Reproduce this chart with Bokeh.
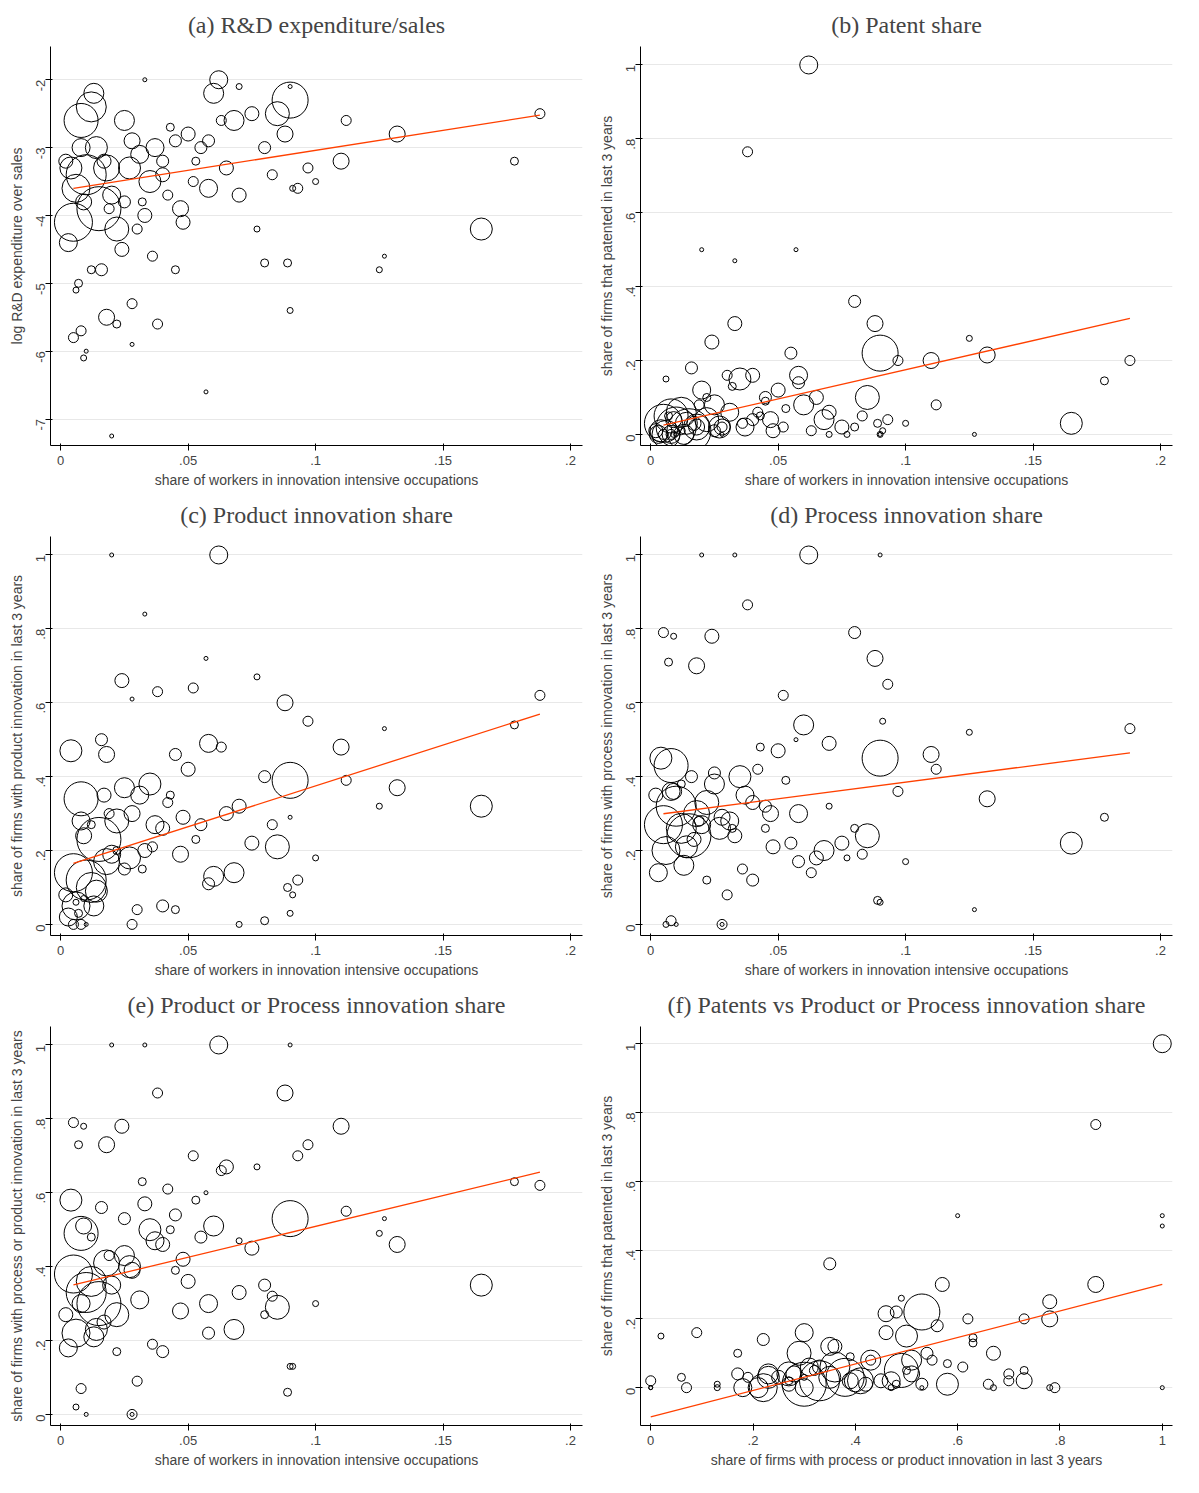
import math
from bokeh.plotting import figure
from bokeh.layouts import gridplot
from bokeh.models import ColumnDataSource, FixedTicker, CustomJSTickFormatter
from bokeh.embed import file_html
from bokeh.resources import INLINE

# industry data
share_innov = [0.005, 0.008, 0.010, 0.015, 0.012, 0.006, 0.018, 0.022, 0.004, 0.014,
               0.025, 0.003, 0.020, 0.028, 0.009, 0.031, 0.035, 0.033, 0.040, 0.045,
               0.047, 0.050, 0.052, 0.055, 0.058, 0.060, 0.062, 0.038, 0.065, 0.068,
               0.080, 0.085, 0.090, 0.088, 0.093, 0.097, 0.110, 0.112, 0.125, 0.132,
               0.165, 0.178, 0.188, 0.100, 0.127, 0.090, 0.089, 0.080, 0.077, 0.057,
               0.020, 0.033, 0.090, 0.005, 0.008, 0.007, 0.006, 0.009, 0.010, 0.018,
               0.022, 0.028, 0.028, 0.016, 0.012, 0.024, 0.030, 0.036, 0.042, 0.045,
               0.048, 0.053, 0.058, 0.063, 0.070, 0.070, 0.075, 0.083, 0.091, 0.013,
               0.002, 0.017, 0.025, 0.032, 0.037, 0.040, 0.043, 0.019, 0.027, 0.008]
weight = [38, 34, 40, 44, 30, 28, 26, 24, 22, 22,
          20, 18, 18, 16, 16, 18, 22, 14, 14, 12,
          16, 14, 10, 12, 18, 20, 18, 10, 14, 20,
          12, 24, 36, 16, 10, 10, 16, 10, 6, 16,
          22, 8, 10, 6, 4, 6, 8, 8, 6, 4,
          4, 4, 4, 10, 10, 8, 6, 6, 4, 16,
          8, 10, 4, 12, 8, 14, 10, 10, 10, 8,
          14, 8, 12, 10, 14, 6, 14, 10, 6, 20,
          14, 14, 12, 8, 18, 12, 8, 10, 22, 18]
rd_sales = [-4.1, -2.6, -3.4, -3.9, -2.4, -3.6, -3.3, -4.2, -3.3, -3.0,
            -2.6, -4.4, -3.7, -2.9, -3.8, -3.1, -3.5, -4.0, -3.4, -2.9,
            -3.9, -2.8, -3.5, -3.0, -3.6, -2.2, -2.0, -5.6, -3.3, -2.6,
            -3.0, -2.5, -2.3, -2.8, -3.6, -3.3, -3.2, -2.6, -4.8, -2.8,
            -4.2, -3.2, -2.5, -3.5, -4.6, -5.4, -4.7, -4.7, -4.2, -6.6,
            -7.25, -2.0, -2.1, -5.8, -5.7, -5.0, -5.1, -6.1, -6.0, -5.5,
            -5.6, -5.3, -5.9, -4.8, -4.8, -4.5, -4.2, -4.6, -3.7, -4.8,
            -4.1, -3.2, -2.9, -2.6, -3.7, -2.1, -2.5, -3.4, -3.6, -2.2,
            -3.2, -3.2, -3.8, -3.8, -3.0, -3.2, -2.7, -3.9, -3.3, -3.0]
patent = [0.03, 0.05, 0.02, 0.01, 0.06, 0.00, 0.02, 0.04, 0.01, 0.03,
          0.08, 0.00, 0.12, 0.02, 0.04, 0.06, 0.15, 0.30, 0.16, 0.10,
          0.04, 0.12, 0.02, 0.22, 0.16, 0.08, 1.00, 0.765, 0.10, 0.04,
          0.36, 0.10, 0.22, 0.30, 0.04, 0.20, 0.20, 0.08, 0.26, 0.215,
          0.03, 0.145, 0.20, 0.03, 0.00, 0.00, 0.03, 0.02, 0.00, 0.50,
          0.50, 0.47, 0.00, 0.00, 0.00, 0.05, 0.15, 0.00, 0.00, 0.02,
          0.10, 0.02, 0.00, 0.18, 0.01, 0.25, 0.16, 0.03, 0.06, 0.09,
          0.01, 0.07, 0.14, 0.01, 0.06, 0.00, 0.02, 0.05, 0.01, 0.00,
          0.01, 0.03, 0.01, 0.13, 0.02, 0.04, 0.05, 0.08, 0.02, 0.00]
product = [0.14, 0.34, 0.12, 0.23, 0.10, 0.05, 0.17, 0.28, 0.47, 0.09,
           0.37, 0.02, 0.19, 0.30, 0.24, 0.35, 0.38, 0.20, 0.26, 0.46,
           0.19, 0.42, 0.64, 0.27, 0.49, 0.13, 1.00, 0.63, 0.30, 0.14,
           0.40, 0.21, 0.39, 0.60, 0.12, 0.55, 0.48, 0.39, 0.32, 0.37,
           0.32, 0.54, 0.62, 0.18, 0.53, 0.03, 0.10, 0.01, 0.67, 0.72,
           1.00, 0.84, 0.29, 0.00, 0.00, 0.03, 0.06, 0.07, 0.00, 0.46,
           0.20, 0.00, 0.61, 0.50, 0.27, 0.66, 0.04, 0.21, 0.33, 0.04,
           0.29, 0.23, 0.11, 0.48, 0.32, 0.00, 0.22, 0.27, 0.08, 0.05,
           0.08, 0.35, 0.15, 0.15, 0.27, 0.05, 0.35, 0.30, 0.18, 0.28]
process = [0.27, 0.43, 0.32, 0.24, 0.26, 0.20, 0.30, 0.33, 0.45, 0.21,
           0.38, 0.14, 0.27, 0.29, 0.36, 0.28, 0.40, 0.24, 0.33, 0.32,
           0.30, 0.47, 0.62, 0.22, 0.30, 0.54, 1.00, 0.865, 0.18, 0.20,
           0.79, 0.24, 0.45, 0.72, 0.65, 0.36, 0.46, 0.42, 0.52, 0.34,
           0.22, 0.29, 0.53, 0.17, 0.04, 0.06, 0.065, 0.26, 0.18, 0.50,
           1.00, 1.00, 1.00, 0.79, 0.01, 0.71, 0.00, 0.78, 0.00, 0.70,
           0.12, 0.00, 0.00, 0.40, 0.38, 0.78, 0.08, 0.15, 0.42, 0.26,
           0.21, 0.39, 0.17, 0.14, 0.49, 0.32, 0.22, 0.19, 0.55, 0.16,
           0.35, 0.23, 0.41, 0.26, 0.35, 0.12, 0.48, 0.28, 0.26, 0.36]
prodproc = [0.38, 0.49, 0.33, 0.30, 0.36, 0.22, 0.41, 0.27, 0.58, 0.23,
            0.43, 0.18, 0.35, 0.39, 0.51, 0.31, 0.50, 0.57, 0.46, 0.54,
            0.28, 0.36, 0.70, 0.48, 0.30, 0.51, 1.00, 0.87, 0.67, 0.23,
            0.35, 0.29, 0.53, 0.87, 0.70, 0.73, 0.78, 0.55, 0.49, 0.46,
            0.35, 0.63, 0.62, 0.30, 0.53, 0.13, 0.06, 0.27, 0.67, 0.60,
            1.00, 1.00, 1.00, 0.79, 0.07, 0.73, 0.02, 0.78, 0.00, 0.73,
            0.17, 0.00, 0.00, 0.56, 0.48, 0.78, 0.09, 0.19, 0.61, 0.39,
            0.42, 0.58, 0.22, 0.66, 0.33, 0.47, 0.45, 0.32, 0.13, 0.21,
            0.27, 0.25, 0.53, 0.63, 0.47, 0.17, 0.50, 0.43, 0.40, 0.30]

# fitted lines: (intercept, slope, x start, x end)
fit_rd = (-3.63, 5.9, 0.005, 0.188)
fit_patent = (0.017, 1.58, 0.005, 0.188)
fit_product = (0.154, 2.21, 0.005, 0.188)
fit_process = (0.295, 0.90, 0.005, 0.188)
fit_prodproc = (0.342, 1.67, 0.005, 0.188)
fit_patent_pp = (-0.085, 0.385, 0.0, 1.0)

x_ticks = [0, 0.05, 0.1, 0.15, 0.2]
unit_ticks = [0, 0.2, 0.4, 0.6, 0.8, 1]
rd_ticks = [-7, -6, -5, -4, -3, -2]

fmt = CustomJSTickFormatter(code="""
var s = (+tick.toFixed(4)).toString();
return s.replace(/^0\\./, '.').replace(/^-0\\./, '-.');
""")

LABEL = "share of workers in innovation intensive occupations"


def panel(title, xs, ys, fit, ylabel, xlabel, xr, yr, xt, yt):
    p = figure(width=590, height=490, x_range=xr, y_range=yr,
               output_backend="svg", toolbar_location=None,
               min_border_left=50, min_border_right=8, min_border_top=10,
               min_border_bottom=40)
    p.title.text = title
    p.title.align = "center"
    p.title.text_font = "Liberation Serif"
    p.title.text_font_size = "24px"
    p.title.text_font_style = "normal"
    p.title.standoff = 18
    p.outline_line_color = None
    src = ColumnDataSource(dict(x=xs, y=ys, s=weight))
    p.scatter("x", "y", size="s", source=src, fill_color=None,
              line_color="black", line_width=1)
    a, b, x0, x1 = fit
    p.line([x0, x1], [a + b * x0, a + b * x1], line_color="#ff4000", line_width=1.3)
    p.xgrid.visible = False
    p.ygrid.grid_line_color = "#e8e8e8"
    p.xaxis.ticker = FixedTicker(ticks=xt)
    p.yaxis.ticker = FixedTicker(ticks=yt)
    p.xaxis.formatter = fmt
    p.yaxis.formatter = fmt
    p.yaxis.major_label_orientation = math.pi / 2
    for ax in (p.xaxis, p.yaxis):
        ax.axis_label_text_font = "Liberation Sans"
        ax.axis_label_text_font_size = "14px"
        ax.axis_label_text_font_style = "normal"
        ax.major_label_text_font = "Liberation Sans"
        ax.major_label_text_font_size = "13px"
        ax.minor_tick_line_color = None
        ax.axis_label_standoff = 4
        ax.major_tick_out = 5
    p.xaxis.axis_label = xlabel
    p.yaxis.axis_label = ylabel
    return p


xr = (-0.004, 0.2047)
ur = (-0.03, 1.05)
pa = panel("(a) R&D expenditure/sales", share_innov, rd_sales, fit_rd,
           "log R&D expenditure over sales", LABEL, xr, (-7.39, -1.51), x_ticks, rd_ticks)
pb = panel("(b) Patent share", share_innov, patent, fit_patent,
           "share of firms that patented in last 3 years", LABEL, xr, ur, x_ticks, unit_ticks)
pc = panel("(c) Product innovation share", share_innov, product, fit_product,
           "share of firms with product innovation in last 3 years", LABEL, xr, ur, x_ticks, unit_ticks)
pd_ = panel("(d) Process innovation share", share_innov, process, fit_process,
            "share of firms with process innovation in last 3 years", LABEL, xr, ur, x_ticks, unit_ticks)
pe = panel("(e) Product or Process innovation share", share_innov, prodproc, fit_prodproc,
           "share of firms with process or product innovation in last 3 years", LABEL, xr, ur, x_ticks, unit_ticks)
pf = panel("(f) Patents vs Product or Process innovation share", prodproc, patent, fit_patent_pp,
           "share of firms that patented in last 3 years",
           "share of firms with process or product innovation in last 3 years",
           (-0.02, 1.02), (-0.11, 1.05), unit_ticks, unit_ticks)

grid = gridplot([[pa, pb], [pc, pd_], [pe, pf]], toolbar_location=None)
open("out.html", "w").write(file_html(grid, INLINE))
